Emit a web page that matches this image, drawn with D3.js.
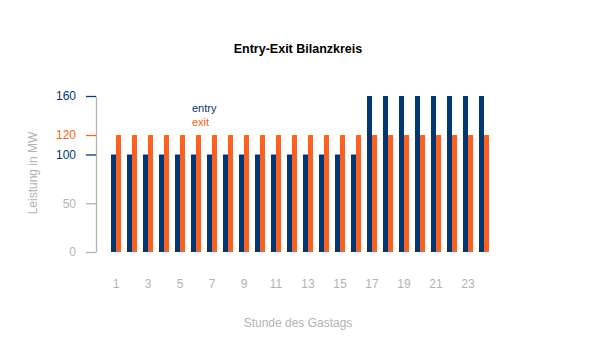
<!DOCTYPE html>
<html>
<head>
<meta charset="utf-8">
<script src="https://cdn.jsdelivr.net/npm/d3@7"></script>
<style>
  html, body { margin: 0; padding: 0; background: #fff; }
  svg { display: block; font-family: "Liberation Sans", Arial, sans-serif; }
</style>
</head>
<body>
<svg id="chart" width="600" height="350"></svg>
<script>
// Hourly capacities of the balancing group (MW)
const hours = d3.range(1, 25);
const entryValues = [100,100,100,100,100,100,100,100,100,100,100,100,100,100,100,100,160,160,160,160,160,160,160,160];
const exitValues  = [120,120,120,120,120,120,120,120,120,120,120,120,120,120,120,120,120,120,120,120,120,120,120,120];
const seriesNames = ["entry", "exit"];
const yTickValues = [0, 50, 100, 120, 160];
const xTickLabels = [1, 3, 5, 7, 9, 11, 13, 15, 17, 19, 21, 23];

const ENTRY = "#02386f";
const EXIT = "#fd6020";
const GREY = "#b3b3b3";

const svg = d3.select("#chart");

const x = d3.scaleBand()
  .domain(hours)
  .range([108, 492])
  .paddingInner(0.375)
  .paddingOuter(0.1875);

const xSub = d3.scaleBand()
  .domain(seriesNames)
  .range([0, x.bandwidth()]);

const y = d3.scaleLinear()
  .domain([0, 160])
  .range([252, 96]);

// Title
svg.append("text")
  .attr("x", 298).attr("y", 53)
  .attr("text-anchor", "middle")
  .attr("font-size", 12.5)
  .attr("font-weight", "bold")
  .attr("fill", "#000")
  .text("Entry-Exit Bilanzkreis");

// Bars
const rows = hours.map((h, i) => ({ hour: h, entry: entryValues[i], exit: exitValues[i] }));
const groups = svg.append("g").selectAll("g")
  .data(rows).join("g")
  .attr("transform", d => `translate(${x(d.hour)},0)`);

groups.selectAll("rect")
  .data(d => seriesNames.map(k => ({ key: k, value: d[k] })))
  .join("rect")
  .attr("x", d => xSub(d.key))
  .attr("width", xSub.bandwidth())
  .attr("y", d => y(d.value))
  .attr("height", d => y(0) - y(d.value))
  .attr("fill", d => d.key === "entry" ? ENTRY : EXIT);

// Y axis
const tickColor = v => v === 120 ? EXIT : (v === 100 || v === 160) ? ENTRY : GREY;
const yAxis = svg.append("g")
  .attr("transform", "translate(96,0)")
  .call(d3.axisLeft(y).tickValues(yTickValues).tickSize(10).tickPadding(10).tickSizeOuter(0));
yAxis.select(".domain").attr("stroke", GREY).attr("stroke-width", 1.3);
yAxis.selectAll(".tick line")
  .attr("stroke", d => tickColor(d))
  .attr("stroke-width", 1.3);
yAxis.selectAll(".tick text")
  .attr("fill", d => tickColor(d))
  .attr("font-size", 12)
  .attr("font-family", "Liberation Sans, Arial, sans-serif");

// X axis labels (no line)
const xAxis = svg.append("g")
  .attr("transform", "translate(0,279)")
  .call(d3.axisBottom(x).tickValues(xTickLabels).tickSize(0).tickPadding(0));
xAxis.select(".domain").remove();
xAxis.selectAll(".tick text")
  .attr("dy", "0.71em")
  .attr("fill", GREY)
  .attr("font-size", 12)
  .attr("font-family", "Liberation Sans, Arial, sans-serif");

// Axis titles
svg.append("text")
  .attr("transform", "translate(37,173) rotate(-90)")
  .attr("text-anchor", "middle")
  .attr("font-size", 12)
  .attr("fill", GREY)
  .text("Leistung in MW");

svg.append("text")
  .attr("x", 298).attr("y", 327)
  .attr("text-anchor", "middle")
  .attr("font-size", 12)
  .attr("fill", GREY)
  .text("Stunde des Gastags");

// Legend
const legend = svg.append("g").attr("transform", "translate(192,0)");
legend.selectAll("text")
  .data(seriesNames).join("text")
  .attr("x", 0)
  .attr("y", (d, i) => 112 + i * 14)
  .attr("font-size", 11)
  .attr("fill", d => d === "entry" ? ENTRY : EXIT)
  .text(d => d);
</script>
</body>
</html>
